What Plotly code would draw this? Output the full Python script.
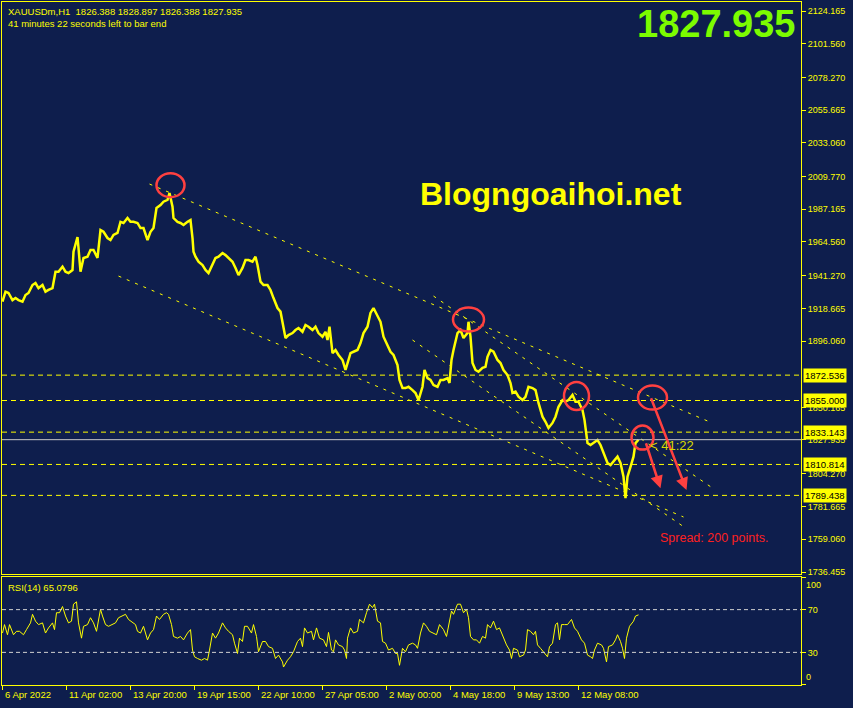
import plotly.graph_objects as go

# H1 bars of XAUUSDm, bar 0 = 6 Apr 2022 (one bar per pixel column in the terminal)
bars = [0, 3, 6, 10, 13, 16, 20, 23, 26, 30, 33, 36, 40, 43, 46, 50, 53, 56, 60, 63,
        66, 70, 71, 75, 76, 78, 81, 85, 88, 91, 95, 98, 101, 105, 108, 111, 115, 118, 121, 125,
        128, 131, 135, 138, 141, 145, 148, 151, 154, 158, 161, 165, 167, 170, 171, 175, 178, 181, 185, 188,
        190, 191, 193, 196, 200, 203, 206, 210, 213, 216, 220, 223, 226, 230, 233, 236, 240, 243, 246, 250,
        253, 255, 258, 261, 265, 268, 271, 275, 278, 281, 283, 286, 290, 293, 296, 300, 303, 306, 310, 313,
        316, 320, 323, 325, 327, 330, 333, 336, 340, 343, 345, 348, 351, 355, 358, 361, 365, 368, 371, 375,
        378, 381, 385, 388, 391, 395, 397, 400, 403, 406, 410, 413, 416, 420, 422, 425, 428, 431, 435, 438,
        441, 445, 447, 449, 451, 455, 458, 461, 465, 466, 468, 470, 473, 476, 480, 483, 485, 488, 491, 495,
        498, 501, 505, 508, 510, 513, 516, 520, 523, 526, 530, 533, 536, 540, 543, 546, 550, 553, 556, 560,
        563, 566, 570, 573, 576, 580, 582, 585, 588, 591, 595, 598, 601, 605, 608, 611, 615, 618, 621, 623,
        625, 628, 631, 633, 636]
close = [1923.3, 1930.2, 1929.3, 1924.4, 1925.8, 1924.4, 1923.3, 1927.9, 1929.3, 1934.8,
         1936.2, 1932.7, 1934.8, 1930.2, 1931.4, 1932.7, 1944.0, 1944.0, 1947.5, 1944.0,
         1943.1, 1945.2, 1957.8, 1968.0, 1960.4, 1944.0, 1953.5, 1954.4, 1959.0, 1959.0,
         1953.5, 1972.8, 1971.6, 1967.3, 1965.9, 1969.4, 1970.8, 1978.5, 1977.7, 1981.1,
         1978.5, 1978.5, 1977.7, 1974.2, 1974.2, 1965.9, 1971.6, 1974.2, 1988.0, 1990.1,
         1992.4, 1993.6, 1998.4, 1988.9, 1981.1, 1978.5, 1977.7, 1976.3, 1978.5, 1979.7,
         1967.3, 1957.8, 1954.4, 1950.9, 1948.6, 1945.2, 1943.1, 1948.6, 1953.5, 1954.4,
         1956.9, 1955.5, 1953.5, 1950.9, 1946.6, 1941.7, 1946.6, 1952.1, 1952.1, 1950.9,
         1954.4, 1948.6, 1937.1, 1934.8, 1934.8, 1931.4, 1925.8, 1918.9, 1916.4, 1905.1,
         1898.2, 1900.2, 1901.6, 1903.7, 1905.1, 1902.5, 1907.2, 1906.0, 1903.7, 1906.0,
         1901.6, 1899.1, 1902.5, 1896.8, 1906.0, 1887.8, 1889.9, 1886.5, 1883.0, 1876.1,
         1880.9, 1887.8, 1888.7, 1889.9, 1894.7, 1901.6, 1906.0, 1915.5, 1918.9, 1912.9,
         1909.4, 1899.1, 1893.3, 1888.7, 1886.5, 1879.5, 1869.2, 1863.6, 1863.6, 1864.5,
         1862.2, 1860.2, 1855.3, 1864.5, 1876.1, 1870.5, 1869.2, 1865.7, 1864.5, 1869.2,
         1869.2, 1870.5, 1867.1, 1883.0, 1889.9, 1901.6, 1903.7, 1898.2, 1901.6, 1909.4,
         1899.1, 1880.9, 1876.1, 1874.9, 1877.5, 1878.3, 1885.2, 1889.9, 1888.7, 1883.0,
         1880.9, 1876.1, 1872.6, 1867.1, 1860.2, 1861.1, 1857.6, 1855.3, 1857.6, 1864.5,
         1863.6, 1862.2, 1853.3, 1843.8, 1840.3, 1836.0, 1839.5, 1843.8, 1850.7, 1855.3,
         1854.2, 1855.3, 1858.8, 1854.2, 1854.2, 1848.4, 1841.5, 1825.6, 1824.3, 1825.6,
         1827.7, 1824.3, 1818.7, 1811.8, 1810.4, 1812.7, 1816.2, 1811.8, 1802.4, 1787.6,
         1802.4, 1809.2, 1816.2, 1825.6, 1827.9]

rsi_bars = [0, 2, 5, 7, 11, 14, 17, 21, 24, 28, 30, 33, 36, 40, 43, 46, 50, 52, 54, 57,
            60, 63, 66, 69, 71, 74, 76, 79, 81, 85, 88, 91, 94, 98, 100, 103, 106, 110, 113, 116,
            120, 123, 126, 130, 133, 135, 138, 141, 145, 148, 151, 154, 157, 161, 164, 166, 169, 171, 175, 178,
            181, 185, 188, 190, 192, 195, 199, 202, 205, 207, 210, 213, 216, 220, 223, 226, 230, 232, 235, 237,
            240, 242, 245, 249, 251, 254, 256, 260, 263, 266, 270, 273, 276, 280, 281, 285, 288, 291, 295, 298,
            300, 302, 305, 309, 311, 314, 317, 321, 324, 326, 329, 331, 333, 336, 340, 342, 344, 345, 348, 351,
            355, 357, 361, 364, 367, 370, 372, 375, 378, 380, 383, 386, 390, 393, 395, 397, 400, 403, 406, 410,
            413, 415, 418, 421, 424, 427, 431, 434, 437, 441, 444, 446, 449, 451, 455, 458, 461, 464, 466, 468,
            471, 474, 477, 480, 483, 485, 488, 491, 494, 497, 501, 504, 507, 509, 511, 515, 517, 521, 523, 525,
            528, 531, 533, 535, 538, 541, 545, 547, 550, 553, 555, 557, 559, 562, 565, 569, 572, 575, 579, 582,
            585, 588, 590, 592, 595, 599, 601, 604, 606, 610, 613, 615, 618, 620, 622, 624, 627, 631, 633, 636]
rsi = [48.1, 56.0, 46.5, 56.0, 46.5, 49.7, 49.7, 46.5, 51.3, 57.6, 65.6, 59.2, 56.0, 57.6, 48.1, 52.9, 57.6, 51.3, 67.1, 67.1,
       72.9, 64.0, 57.6, 59.2, 75.1, 77.3, 57.6, 43.3, 54.4, 56.0, 62.4, 57.6, 49.7, 70.3, 64.0, 56.0, 54.4, 56.0, 57.6, 62.4,
       64.0, 65.6, 60.8, 57.6, 56.0, 49.7, 48.1, 54.4, 41.7, 48.1, 51.3, 64.0, 60.8, 65.6, 67.1, 65.6, 56.0, 44.9, 43.3, 44.9,
       41.7, 48.1, 51.3, 32.2, 25.9, 24.3, 22.7, 24.3, 22.7, 32.2, 48.1, 43.3, 48.1, 57.6, 52.9, 49.7, 46.5, 38.6, 29.0, 43.3,
       40.2, 54.4, 54.4, 48.1, 56.0, 44.9, 30.6, 40.2, 40.2, 35.4, 33.8, 24.3, 27.5, 21.1, 16.3, 22.7, 25.9, 30.6, 40.2, 43.3,
       35.4, 52.9, 48.1, 49.7, 41.7, 52.9, 43.3, 41.7, 35.4, 48.7, 32.2, 30.6, 41.7, 37.0, 35.4, 32.2, 24.3, 43.3, 52.9, 48.1,
       49.7, 60.8, 57.6, 67.1, 75.1, 71.9, 75.1, 59.2, 57.6, 40.2, 38.6, 32.2, 33.8, 29.0, 29.0, 17.9, 33.8, 30.6, 37.0, 38.6,
       37.0, 33.8, 48.1, 57.6, 54.4, 49.7, 48.1, 46.5, 56.0, 51.3, 44.9, 54.4, 68.7, 65.6, 75.1, 75.1, 67.1, 70.3, 62.4, 44.9,
       41.7, 41.7, 38.6, 44.9, 43.3, 56.0, 52.9, 59.2, 51.3, 52.9, 43.3, 37.0, 32.2, 24.3, 33.8, 32.2, 25.9, 27.5, 32.2, 51.3,
       49.7, 46.5, 49.7, 37.0, 33.8, 30.6, 25.9, 35.4, 38.6, 56.0, 57.6, 41.7, 56.0, 56.0, 56.0, 60.8, 52.9, 49.7, 41.7, 38.6,
       27.5, 25.9, 24.3, 32.2, 38.6, 37.0, 33.8, 21.1, 35.4, 37.0, 41.7, 46.5, 40.2, 33.8, 24.3, 43.3, 54.4, 59.2, 64.0, 65.1]

level_prices = [1872.536, 1855.000, 1833.143, 1810.814, 1789.438]
last_price = 1827.935
axis_prices = [2124.165, 2101.560, 2078.270, 2055.665, 2033.060, 2009.770, 1987.165, 1964.560,
               1941.270, 1918.665, 1896.060, 1850.165, 1827.935, 1804.270, 1781.665, 1759.060, 1736.455]
rsi_levels = [70, 30]
time_ticks = [0, 64, 128, 192, 256, 320, 384, 448, 512, 576]
time_labels = ["6 Apr 2022", "11 Apr 02:00", "13 Apr 20:00", "19 Apr 15:00", "22 Apr 10:00",
               "27 Apr 05:00", "2 May 00:00", "4 May 18:00", "9 May 13:00", "12 May 08:00"]

# channel trend lines: (bar start, price start, bar end, price end)
channel_lines = [(147, 2004.6, 710, 1839.4),
                 (116, 1941.0, 681, 1774.5),
                 (431, 1927.2, 710, 1794.5),
                 (410, 1896.8, 683, 1766.9)]
# swing points circled in red
mark_bars = [168, 466, 574, 650, 640]
mark_prices = [2003.8, 1910.9, 1858.1, 1857.0, 1829.4]
# projected moves (from bar, from price, to bar, to price)
arrows = [(643, 1826.5, 658, 1794.3), (648, 1857.6, 684, 1793.1)]

BG = "#0e1e4d"
YEL = "#ffff00"
RED = "#ff4040"
FONT = "Liberation Sans"

fig = go.Figure()

fig.add_trace(go.Scatter(x=bars, y=close, mode="lines",
                         line=dict(color=YEL, width=2.5), xaxis="x", yaxis="y"))
fig.add_trace(go.Scatter(x=rsi_bars, y=rsi, mode="lines",
                         line=dict(color=YEL, width=1), xaxis="x2", yaxis="y2"))

for b0, p0, b1, p1 in channel_lines:
    fig.add_trace(go.Scatter(x=[b0, b1], y=[p0, p1], mode="lines",
                             line=dict(color=YEL, width=1, dash="3px,6px"),
                             xaxis="x", yaxis="y"))

shapes = []
for lv in level_prices:
    shapes.append(dict(type="line", xref="paper", x0=0, x1=1, yref="y", y0=lv, y1=lv,
                       line=dict(color=YEL, width=1, dash="5px,4px")))
shapes.append(dict(type="line", xref="paper", x0=0, x1=1, yref="y", y0=last_price, y1=last_price,
                   line=dict(color="#c8c8c8", width=1)))
for lv in rsi_levels:
    shapes.append(dict(type="line", xref="paper", x0=0, x1=1, yref="y2", y0=lv, y1=lv,
                       line=dict(color="#d0d0d0", width=1, dash="4px,3px")))

# red ellipses, pixel sized, anchored on the marked bars
ellipse_px = [(28, 24), (31, 24), (25, 28), (29, 24), (22, 24)]
for b, p, (w, h) in zip(mark_bars, mark_prices, ellipse_px):
    shapes.append(dict(type="circle", xref="x", yref="y", xsizemode="pixel", ysizemode="pixel",
                       xanchor=b, yanchor=p, x0=-w / 2, x1=w / 2, y0=-h / 2, y1=h / 2,
                       line=dict(color=RED, width=2.5)))

ann = []
for lv in level_prices:
    ann.append(dict(xref="paper", x=1, xanchor="left", xshift=2, yref="y", y=lv,
                    text=f"{lv:.3f}", showarrow=False, bgcolor=YEL, borderpad=1,
                    font=dict(family=FONT, size=9.5, color="black")))
for b0, p0, b1, p1 in arrows:
    ann.append(dict(x=b1, y=p1, ax=b0, ay=p0, xref="x", yref="y", axref="x", ayref="y",
                    text="", showarrow=True, arrowhead=2, arrowsize=1, arrowwidth=2.5,
                    arrowcolor=RED))
for t, lab in zip(time_ticks, time_labels):
    ann.append(dict(xref="x2", x=t, xanchor="left", yref="paper", y=0, yanchor="top", yshift=-2,
                    text=lab, showarrow=False, font=dict(family=FONT, size=9.5, color=YEL)))
ann.append(dict(xref="paper", x=1, xanchor="left", xshift=3, yref="y2", y=100, yanchor="top",
                text="100", showarrow=False, font=dict(family=FONT, size=9, color=YEL)))
ann.append(dict(xref="paper", x=1, xanchor="left", xshift=3, yref="y2", y=0, yanchor="bottom",
                text="0", showarrow=False, font=dict(family=FONT, size=9, color=YEL)))
ann.append(dict(xref="paper", x=0, xanchor="left", xshift=4, yref="paper", y=1, yanchor="top", yshift=-2,
                text="XAUUSDm,H1 \u00a01826.388 1828.897 1826.388 1827.935<br>41 minutes 22 seconds left to bar end",
                align="left", showarrow=False, font=dict(family=FONT, size=9.5, color=YEL)))
ann.append(dict(xref="paper", x=0, xanchor="left", xshift=4, yref="y2", y=100, yanchor="top", yshift=-2,
                text="RSI(14) 65.0796", showarrow=False, font=dict(family=FONT, size=9.5, color=YEL)))
ann.append(dict(xref="paper", x=1, xanchor="right", xshift=-3, yref="paper", y=1, yanchor="top", yshift=1,
                text="<b>1827.935</b>", showarrow=False, font=dict(family=FONT, size=38, color="#7cfc00")))
ann.append(dict(xref="x", x=548, yref="y", y=1998, text="<b>Blogngoaihoi.net</b>", showarrow=False,
                font=dict(family=FONT, size=32, color=YEL)))
ann.append(dict(xref="x", x=655, xanchor="left", yref="y", y=1760, text="Spread: 200 points.",
                showarrow=False, font=dict(family=FONT, size=12.5, color="#ff2020")))
ann.append(dict(xref="x", x=645, xanchor="left", yref="y", y=1824, text="< 41:22",
                showarrow=False, font=dict(family=FONT, size=13, color="#d8d800")))

axis_common = dict(showgrid=False, zeroline=False, showline=True, mirror=True,
                   linecolor=YEL, linewidth=1)

fig.update_layout(
    width=853, height=708,
    margin=dict(l=2, r=52, t=2, b=23),
    paper_bgcolor=BG, plot_bgcolor=BG,
    showlegend=False,
    xaxis=dict(domain=[0, 1], anchor="y", range=[-0.5, 798.5], showticklabels=False,
               ticks="", **axis_common),
    xaxis2=dict(domain=[0, 1], anchor="y2", matches="x", range=[-0.5, 798.5],
                tickvals=time_ticks, showticklabels=False, ticks="outside", ticklen=4,
                tickcolor=YEL, **axis_common),
    yaxis=dict(domain=[0.1625, 1], anchor="x", side="right", range=[1735.1, 2130.4],
               tickvals=axis_prices, ticktext=[f"{v:.3f}" for v in axis_prices],
               ticks="outside", ticklen=4, tickcolor=YEL,
               tickfont=dict(family=FONT, size=9, color=YEL), **axis_common),
    yaxis2=dict(domain=[0, 0.1581], anchor="x2", side="right", range=[-0.5, 100.5],
                tickvals=[100, 70, 30, 0], ticktext=["", "70", "30", ""],
                ticks="outside", ticklen=4, tickcolor=YEL,
                tickfont=dict(family=FONT, size=9, color=YEL), **axis_common),
    shapes=shapes,
    annotations=ann,
)

fig.write_html("out.html", config={"displayModeBar": False},
               post_script="document.body.style.margin='0';")
